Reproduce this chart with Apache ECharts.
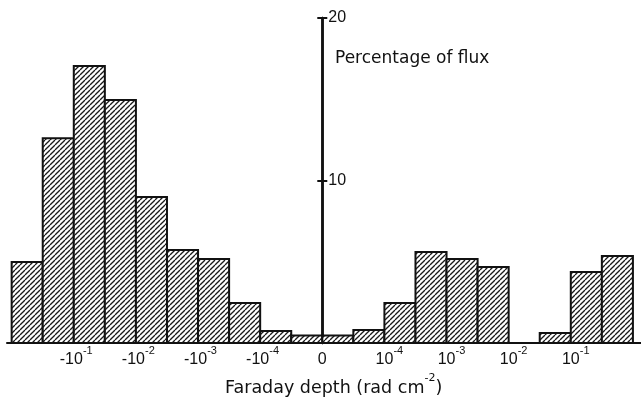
<!DOCTYPE html>
<html><head><meta charset="utf-8">
<script src="https://cdn.jsdelivr.net/npm/echarts@6/dist/echarts.min.js"></script>
<style>html,body{margin:0;padding:0;background:#fff}#c{width:641px;height:398px}</style>
</head><body><div id="c"></div>
<script>
// Histogram bins (lower/upper edge, in bin units; 0 is the Faraday depth 0 line)
const binStarts = [-10,-9,-8,-7,-6,-5,-4,-3,-2,-1,0,1,2,3,4,5,6,7,8,9];
const binEnds   = [-9,-8,-7,-6,-5,-4,-3,-2,-1,0,1,2,3,4,5,6,7,8,9,10];
// Percentage of flux in each bin
const fluxPercent = [4.98,12.6,17.05,14.95,8.98,5.72,5.17,2.46,0.74,0.46,0.46,0.8,2.46,5.6,5.17,4.68,0,0.62,4.37,5.35];
// x tick labels (at bin edges)
const tickValues = [-8,-6,-4,-2,0,2,4,6,8];
const tickBase   = ['-10','-10','-10','-10','0','10','10','10','10'];
const tickExp    = ['-1','-2','-3','-4','','-4','-3','-2','-1'];
const yTicks = [10,20];
const xTitleBase = 'Faraday depth (rad cm';
const xTitleExp = '-2';
const xTitleEnd = ')';
const yTitle = 'Percentage of flux';

const X_MIN = -10.15, X_MAX = 10.26;
const GRID = {left:7, right:0, top:18, bottom:55};
const W = 641;
const gridWidth = W - GRID.left - GRID.right;
// place the vertical axis at x = 0 of the horizontal axis
const yAxisOffset = -gridWidth * (0 - X_MIN) / (X_MAX - X_MIN);

function makeHatch(){
  const w=5,h=5;
  const c=document.createElement('canvas'); c.width=w; c.height=h;
  const g=c.getContext('2d');
  g.fillStyle='#fff'; g.fillRect(0,0,w,h);
  g.strokeStyle='#1a1a1a'; g.lineWidth=1.3;
  for (const dx of [-w,0,w]) { g.beginPath(); g.moveTo(dx,h); g.lineTo(dx+w,0); g.stroke(); }
  return c;
}
const hatch = {image: makeHatch(), repeat: 'repeat'};
const data = binStarts.map((s,i)=>[s, binEnds[i], fluxPercent[i]]);

const chart = echarts.init(document.getElementById('c'), null, {renderer:'canvas'});
const ink = '#111';
chart.setOption({
  backgroundColor:'#fff',
  animation:false,
  title:[
    {text: xTitleBase + '{s|' + xTitleExp + '}' + xTitleEnd, left:225, top:373, padding:0,
     textStyle:{fontFamily:'DejaVu Sans', fontSize:17.5, fontWeight:'normal', color:ink, lineHeight:30.5,
       rich:{s:{fontFamily:'DejaVu Sans', fontSize:11, color:ink, verticalAlign:'top', lineHeight:12}}}},
    {text: yTitle, left:335, top:50, padding:0,
     textStyle:{fontFamily:'DejaVu Sans', fontSize:17, fontWeight:'normal', color:ink, lineHeight:17}}
  ],
  grid:{left:GRID.left, right:GRID.right, top:GRID.top, bottom:GRID.bottom, containLabel:false, outerBoundsMode:'none'},
  xAxis:{
    type:'value', min:X_MIN, max:X_MAX,
    splitLine:{show:false},
    axisTick:{show:false},
    axisLine:{show:true, onZero:true, lineStyle:{color:ink, width:2}},
    axisLabel:{
      customValues: tickValues,
      margin:2, color:ink, fontFamily:"'Liberation Sans Narrow','Liberation Sans'", fontSize:16, lineHeight:30,
      formatter:function(v){
        const i = tickValues.indexOf(Math.round(v));
        if (i<0) return '';
        const b = tickBase[i], e = tickExp[i];
        if (!e) return b;
        const pad = b.charAt(0)==='-' ? '{pm| }' : '{pp| }';
        return pad + b + '{s|' + e + '}';
      },
      rich:{
        s:{fontFamily:"'Liberation Sans Narrow','Liberation Sans'", fontSize:11, color:ink, verticalAlign:'top', lineHeight:11, width:10, align:'left'},
        pp:{width:10, fontSize:11, lineHeight:12},
        pm:{width:5, fontSize:11, lineHeight:12}
      }
    }
  },
  yAxis:[
    {type:'value', min:0, max:20, position:'left', offset:yAxisOffset,
     splitLine:{show:false},
     axisLine:{show:true, onZero:false, lineStyle:{color:ink, width:2.5}},
     axisTick:{show:true, customValues:yTicks, length:5, lineStyle:{color:ink, width:2}},
     axisLabel:{show:true, inside:true, customValues:yTicks, margin:6, color:ink, fontFamily:'Liberation Sans', fontSize:16}},
    {type:'value', min:0, max:20, position:'left', offset:yAxisOffset,
     splitLine:{show:false},
     axisLine:{show:true, onZero:false, lineStyle:{color:ink, width:2.5}},
     axisTick:{show:true, inside:true, customValues:yTicks, length:5, lineStyle:{color:ink, width:2}},
     axisLabel:{show:false}}
  ],
  series:[{
    type:'custom', clip:false,
    encode:{x:[0,1], y:2},
    data:data,
    renderItem:function(params, api){
      const x0=api.value(0), x1=api.value(1), v=api.value(2);
      if (!(v>0)) return null;
      const p0=api.coord([x0,v]), p1=api.coord([x1,0]);
      return {type:'rect', shape:{x:p0[0], y:p0[1], width:p1[0]-p0[0], height:p1[1]-p0[1]},
        style:{fill:hatch, stroke:ink, lineWidth:2}};
    }
  }]
});
</script>
</body></html>
